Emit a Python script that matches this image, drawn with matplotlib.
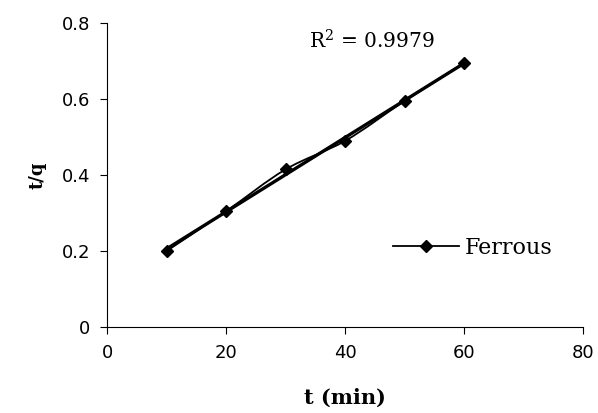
import numpy as np
import matplotlib
matplotlib.use("Agg")
import matplotlib.pyplot as plt
from matplotlib.path import Path
from matplotlib.patches import PathPatch
from matplotlib.lines import Line2D

# data
t_min = [10, 20, 30, 40, 50, 60]
t_over_q = [0.200, 0.305, 0.415, 0.490, 0.595, 0.695]
series_name = "Ferrous"
r2_text = "R$^2$ = 0.9979"
x_ticks = [0, 20, 40, 60, 80]
y_ticks = [0, 0.2, 0.4, 0.6, 0.8]


def smooth_path(x, y, tension=0.5):
    # excel style smoothed line: bezier segments through the points
    x = np.asarray(x, float)
    y = np.asarray(y, float)
    verts = [(x[0], y[0])]
    codes = [Path.MOVETO]
    n = len(x)
    for i in range(n - 1):
        x0, y0 = (x[i - 1], y[i - 1]) if i > 0 else (x[i], y[i])
        x3, y3 = (x[i + 2], y[i + 2]) if i + 2 < n else (x[i + 1], y[i + 1])
        c1 = (x[i] + (x[i + 1] - x0) * tension / 3, y[i] + (y[i + 1] - y0) * tension / 3)
        c2 = (x[i + 1] - (x3 - x[i]) * tension / 3, y[i + 1] - (y3 - y[i]) * tension / 3)
        verts += [c1, c2, (x[i + 1], y[i + 1])]
        codes += [Path.CURVE4] * 3
    return Path(verts, codes)


serif = "DejaVu Serif"
fig = plt.figure(figsize=(5.98, 4.13), dpi=100)
ax = fig.add_axes([0.179, 0.208, 0.796, 0.736])

ax.add_patch(PathPatch(smooth_path(t_min, t_over_q), fill=False, lw=1.3, color="black"))

# linear trendline
k, b = np.polyfit(t_min, t_over_q, 1)
xs = np.array([t_min[0], t_min[-1]])
ax.plot(xs, k * xs + b, color="black", lw=2.4)

ax.plot(t_min, t_over_q, ls="none", marker="D", ms=6.5, color="black")

ax.set_xlim(0, 80)
ax.set_ylim(0, 0.8)
ax.set_xticks(x_ticks)
ax.set_yticks(y_ticks)
ax.set_yticklabels(["0", "0.2", "0.4", "0.6", "0.8"])
for s in ["top", "right"]:
    ax.spines[s].set_visible(False)
for s in ["left", "bottom"]:
    ax.spines[s].set_linewidth(0.8)
ax.tick_params(direction="out", length=5, width=0.8, labelsize=13, pad=7)
for lbl in ax.get_xticklabels() + ax.get_yticklabels():
    lbl.set_fontfamily("DejaVu Sans")

ax.set_xlabel("t (min)", fontfamily=serif, fontweight="bold", fontsize=15, labelpad=19)
ax.set_ylabel("t/q", fontfamily=serif, fontweight="bold", fontsize=13, labelpad=11)

ax.text(34, 0.752, r2_text, fontfamily=serif, fontsize=14.5, va="center",
        math_fontfamily="dejavuserif")

handle = Line2D([], [], color="black", lw=1.3, marker="D", ms=6.5)
ax.legend([handle], [series_name], loc="center left", bbox_to_anchor=(0.6, 0.26), frameon=False,
          prop={"family": serif, "size": 16}, handlelength=3.0, handletextpad=0.25,
          borderpad=0, borderaxespad=0)

fig.savefig("out.png", dpi=100)
